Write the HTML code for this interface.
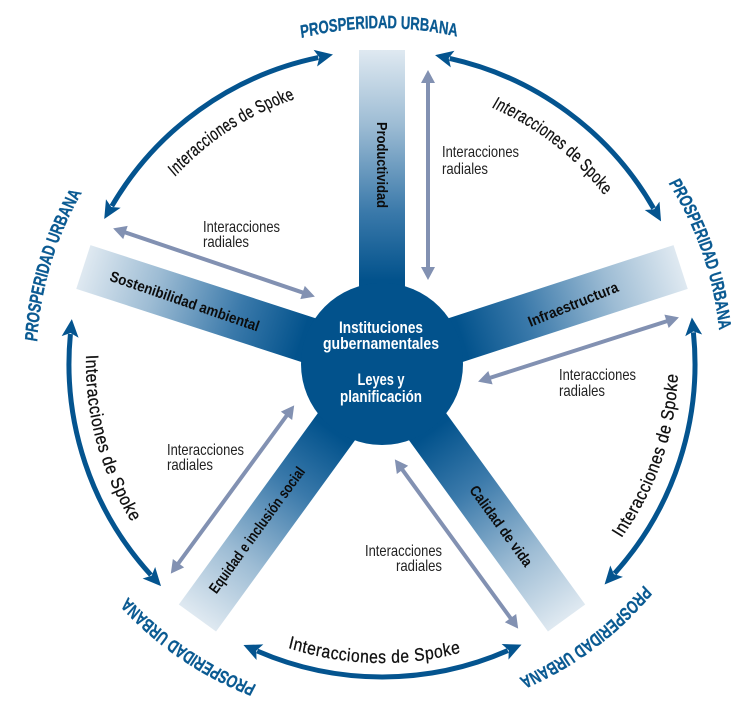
<!DOCTYPE html>
<html><head><meta charset="utf-8">
<style>
html,body{margin:0;padding:0;background:#fff;width:754px;height:720px;overflow:hidden}
svg{display:block;font-family:"Liberation Sans",sans-serif}
.p{font-size:18px;font-weight:bold;fill:#0a5a92;stroke:#0a5a92;stroke-width:.3px;text-anchor:middle}
.s{font-size:18px;fill:#111;stroke:#111;stroke-width:.3px;text-anchor:middle;letter-spacing:.6px}
.r{font-size:16px;fill:#222}
.b{font-size:15px;font-weight:bold;fill:#0c0c0c;text-anchor:middle}
.c{font-size:16.5px;font-weight:bold;fill:#fff;text-anchor:middle}
</style></head><body>
<svg width="754" height="720" viewBox="0 0 754 720" xmlns="http://www.w3.org/2000/svg">
<defs>
<linearGradient id="g" gradientUnits="userSpaceOnUse" x1="382" y1="50" x2="382" y2="300">
<stop offset="0" stop-color="#dfe9f1"/><stop offset=".3" stop-color="#9dbcd4"/><stop offset=".65" stop-color="#3a79aa"/><stop offset=".92" stop-color="#02528c"/><stop offset="1" stop-color="#00508a"/>
</linearGradient>
<marker id="h" markerUnits="userSpaceOnUse" markerWidth="24" markerHeight="22" viewBox="-4 -11 24 22" refX="0" refY="0" orient="auto-start-reverse">
<path d="M-3,-8.5 L15,0 L-3,8.5 L1,0 Z" fill="#04548f"/></marker>
<marker id="k" markerUnits="userSpaceOnUse" markerWidth="20" markerHeight="18" viewBox="-3 -9 20 18" refX="0" refY="0" orient="auto-start-reverse">
<path d="M-1,-7 L12,0 L-1,7 Z" fill="#8291b2"/></marker>
<path id="ap" d="M-460.3,0 A460.3,336 0 0 1 460.3,0"/>
<path id="at" d="M-387.5,0 A387.5,279 0 0 1 387.5,0"/>
<path id="bl" d="M-340,0 A340,296 0 0 0 340,0"/>
<path id="bb" d="M-343.7,0 A343.7,299 0 0 0 343.7,0"/>
</defs>

<g fill="url(#g)">
<polygon points="359,50 405,50 405,300 359,300"/>
<polygon points="359,50 405,50 405,300 359,300" transform="rotate(72 382 364)"/>
<polygon points="359,50 405,50 405,300 359,300" transform="rotate(144 382 364)"/>
<polygon points="359,50 405,50 405,300 359,300" transform="rotate(216 382 364)"/>
<polygon points="359,50 405,50 405,300 359,300" transform="rotate(288 382 364)"/>
</g>
<circle cx="382" cy="364" r="81" fill="#02528c"/>

<g fill="none" stroke="#04548f" stroke-width="5" marker-start="url(#h)" marker-end="url(#h)">
<path d="M318.3,57.6 A313,313 0 0 0 111.8,206.1"/>
<path d="M449.7,58.4 A313,313 0 0 1 653.6,208.4"/>
<path d="M693.4,332.4 A313,313 0 0 1 614.6,573.4"/>
<path d="M507.8,650.6 A313,313 0 0 1 257.2,651"/>
<path d="M150.9,575 A313,313 0 0 1 70.4,334"/>
</g>

<g stroke="#8291b2" stroke-width="4" marker-start="url(#k)" marker-end="url(#k)" fill="none">
<path d="M428,82 L428,268"/>
<path d="M124.5,232.2 L303.5,292.8"/>
<path d="M489.5,378 L667.5,321"/>
<path d="M177.9,564 L287.1,415"/>
<path d="M401.9,469.1 L511.1,618.9"/>
</g>

<text class="p" transform="rotate(-.5 382 364) translate(382 364) scale(.73 1)"><textPath href="#ap" startOffset="50%">PROSPERIDAD URBANA</textPath></text>
<text class="p" transform="rotate(71 382 364) translate(382 361) scale(.73 1)"><textPath href="#ap" startOffset="50%">PROSPERIDAD URBANA</textPath></text>
<text class="p" transform="rotate(143.3 382 364) translate(382 357) scale(.73 1)"><textPath href="#ap" startOffset="50%">PROSPERIDAD URBANA</textPath></text>
<text class="p" transform="rotate(214.4 382 364) translate(382 355) scale(.73 1)"><textPath href="#ap" startOffset="50%">PROSPERIDAD URBANA</textPath></text>
<text class="p" transform="rotate(286.7 382 364) translate(382 354) scale(.73 1)"><textPath href="#ap" startOffset="50%">PROSPERIDAD URBANA</textPath></text>

<text class="s" transform="rotate(-33 382 364) translate(382 364) scale(.72 1)"><textPath href="#at" startOffset="50%">Interacciones de Spoke</textPath></text>
<text class="s" transform="rotate(38 382 364) translate(382 364) scale(.72 1)"><textPath href="#at" startOffset="50%">Interacciones de Spoke</textPath></text>
<text class="s" transform="rotate(-71 382 364) translate(382 364) scale(.87 1)"><textPath href="#bl" startOffset="50%">Interacciones de Spoke</textPath></text>
<text class="s" transform="rotate(1.5 382 364) translate(382 364) scale(.87 1)"><textPath href="#bb" startOffset="50%">Interacciones de Spoke</textPath></text>
<text class="s" transform="rotate(74.7 382 364) translate(382 364) scale(.87 1)"><textPath href="#bl" startOffset="50%">Interacciones de Spoke</textPath></text>

<text class="r" x="442" y="157" textLength="77" lengthAdjust="spacingAndGlyphs">Interacciones</text><text class="r" x="442" y="174" textLength="46" lengthAdjust="spacingAndGlyphs">radiales</text>
<text class="r" x="203" y="232" textLength="77" lengthAdjust="spacingAndGlyphs">Interacciones</text><text class="r" x="203" y="247" textLength="46" lengthAdjust="spacingAndGlyphs">radiales</text>
<text class="r" x="559" y="380" textLength="77" lengthAdjust="spacingAndGlyphs">Interacciones</text><text class="r" x="559" y="396" textLength="46" lengthAdjust="spacingAndGlyphs">radiales</text>
<text class="r" x="167" y="455" textLength="77" lengthAdjust="spacingAndGlyphs">Interacciones</text><text class="r" x="167" y="470" textLength="46" lengthAdjust="spacingAndGlyphs">radiales</text>
<text class="r" x="365" y="556" textLength="77" lengthAdjust="spacingAndGlyphs">Interacciones</text><text class="r" x="396" y="571" textLength="46" lengthAdjust="spacingAndGlyphs">radiales</text>

<text class="b" transform="translate(377,165) rotate(90)" textLength="86" lengthAdjust="spacingAndGlyphs">Productividad</text>
<text class="b" transform="translate(575,309) rotate(-22)" textLength="96" lengthAdjust="spacingAndGlyphs">Infraestructura</text>
<text class="b" transform="translate(183,306) rotate(19)" textLength="157" lengthAdjust="spacingAndGlyphs">Sostenibilidad ambiental</text>
<text class="b" transform="translate(497,529) rotate(54)" textLength="96" lengthAdjust="spacingAndGlyphs">Calidad de vida</text>
<text class="b" transform="translate(261,533) rotate(-54)" textLength="152" lengthAdjust="spacingAndGlyphs">Equidad e inclusión social</text>

<text class="c" x="381" y="333" textLength="84" lengthAdjust="spacingAndGlyphs">Instituciones</text>
<text class="c" x="381" y="349" textLength="116" lengthAdjust="spacingAndGlyphs">gubernamentales</text>
<text class="c" x="381" y="385" textLength="47" lengthAdjust="spacingAndGlyphs">Leyes y</text>
<text class="c" x="381" y="402" textLength="82" lengthAdjust="spacingAndGlyphs">planificación</text>
</svg>
</body></html>
